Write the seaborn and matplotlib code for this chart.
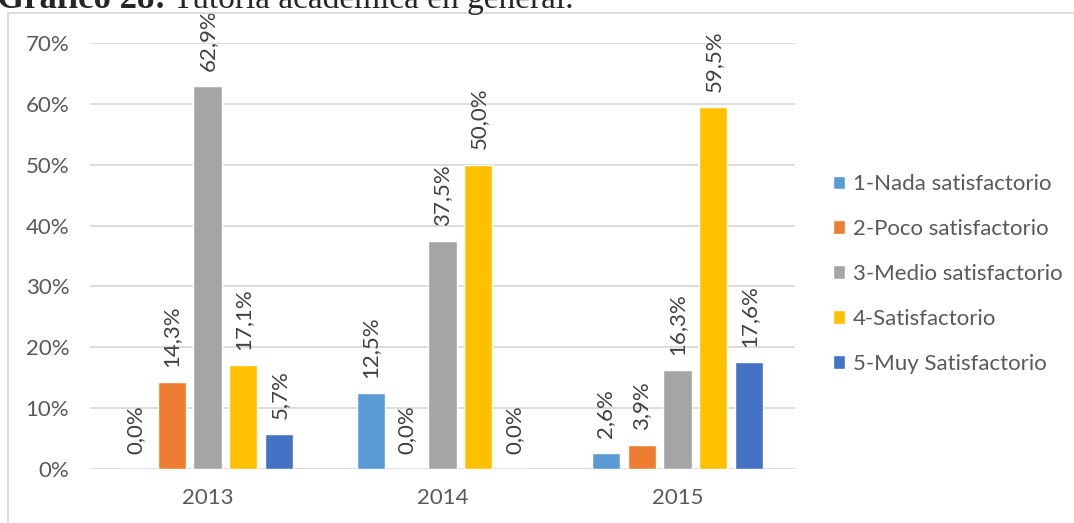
import numpy as np
import pandas as pd
import matplotlib
matplotlib.use('Agg')
import matplotlib.pyplot as plt
import seaborn as sns
from matplotlib.patches import Rectangle

years = ['2013', '2014', '2015']
categories = ['1-Nada satisfactorio', '2-Poco satisfactorio', '3-Medio satisfactorio',
              '4-Satisfactorio', '5-Muy Satisfactorio']
v_nada = [0.0, 12.5, 2.6]
v_poco = [14.3, 0.0, 3.9]
v_medio = [62.9, 37.5, 16.3]
v_satis = [17.1, 50.0, 59.5]
v_muy = [5.7, 0.0, 17.6]
colors = ['#5B9BD5', '#ED7D31', '#A5A5A5', '#FFC000', '#4472C4']

rows = []
for cat, vals in zip(categories, [v_nada, v_poco, v_medio, v_satis, v_muy]):
    for y, v in zip(years, vals):
        rows.append({'year': y, 'cat': cat, 'value': v / 100})
df = pd.DataFrame(rows)

sns.set_style('white')
plt.rcParams['font.family'] = ['Lato', 'DejaVu Sans']

fig = plt.figure(figsize=(10.74, 5.23), dpi=100)
ax = fig.add_axes([90 / 1074, 54 / 523, 705 / 1074, 426 / 523])

sns.barplot(data=df, x='year', y='value', hue='cat', palette=colors,
            width=0.765, gap=0.22, ax=ax, saturation=1)

ax.set_ylim(0, 0.7)
ax.set_yticks(np.arange(0, 0.71, 0.1))
ax.set_yticklabels([f'{int(round(t * 100))}%' for t in np.arange(0, 0.71, 0.1)])
ax.yaxis.grid(True, color='#d9d9d9', linewidth=1.3)
ax.set_axisbelow(True)
for s in ax.spines.values():
    s.set_visible(False)
ax.tick_params(axis='both', length=0, labelsize=16, labelcolor='#595959')
ax.tick_params(axis='y', pad=15)
ax.tick_params(axis='x', pad=14)
ax.set_xlabel('')
ax.set_ylabel('')

for cont in ax.containers:
    labels = [f'{b.get_height() * 100:.1f}%'.replace('.', ',') for b in cont]
    ax.bar_label(cont, labels=labels, rotation=90, padding=11, fontsize=16,
                 color='#404040')

handles, labs = ax.get_legend_handles_labels()
ax.legend(handles, labs, loc='center left', bbox_to_anchor=(1.025, 0.458), frameon=False,
          fontsize=16, labelcolor='#595959', handlelength=0.55, handleheight=0.55,
          handletextpad=0.35, labelspacing=1.12)

fig.patches.append(Rectangle((8 / 1074, -0.1), 1.2, 1 - 13 / 523 + 0.1,
                             transform=fig.transFigure, fill=False,
                             edgecolor='#d9d9d9', linewidth=1.3))

fig.text(-0.003, 1 - 8 / 523, 'Gráfico 28:', fontsize=25, fontweight='bold',
         family='Liberation Serif', va='baseline', ha='left')
fig.text(173 / 1074, 1 - 8 / 523, 'Tutoría académica en general.', fontsize=24,
         family='Liberation Serif', va='baseline', ha='left')

fig.savefig('out.png', dpi=100)
